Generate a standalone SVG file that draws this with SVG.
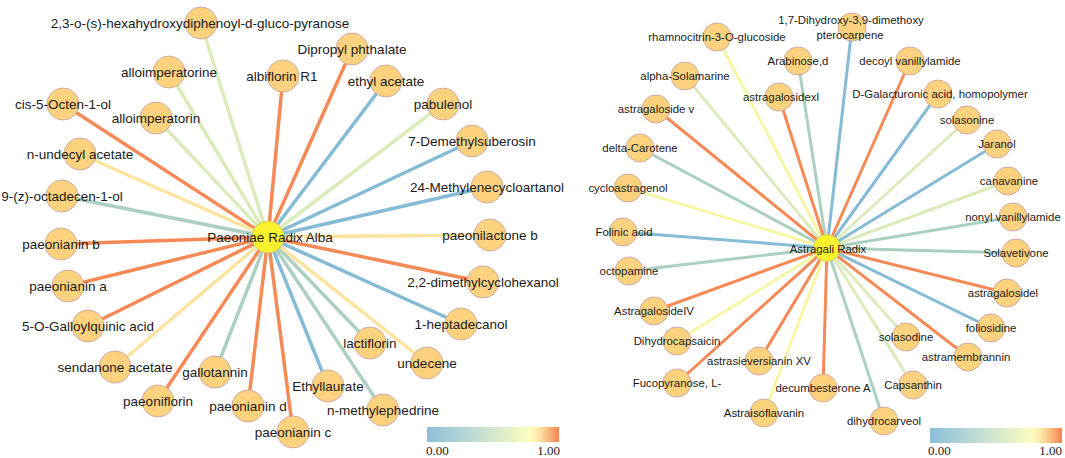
<svg xmlns="http://www.w3.org/2000/svg" width="1065" height="458" viewBox="0 0 1065 458">
<defs>
<linearGradient id="cbar" x1="0" y1="0" x2="1" y2="0">
<stop offset="0" stop-color="#8cbfdc"/>
<stop offset="0.45" stop-color="#cde4d0"/>
<stop offset="0.78" stop-color="#fdfdc0"/>
<stop offset="0.86" stop-color="#fddfa0"/>
<stop offset="1" stop-color="#f7834f"/>
</linearGradient>
<style>
.e{stroke-linecap:butt;fill:none}
.L .e{stroke-width:3.5}
.R .e{stroke-width:3}
.B{stroke:#86bbd6}
.G{stroke:#abd0bf}
.LG{stroke:#dcebbc}
.Y{stroke:#fbe4a0}
.Y2{stroke:#f5f6a6}
.O{stroke:#f58a57}
.n circle{fill:#fdd27f;stroke:#cfaaa3;stroke-width:1}
.c circle{fill:#fbf22e;stroke:#d8cc74;stroke-width:1}
text{font-family:"Liberation Sans",Arial,sans-serif;fill:#1a1a1a;text-anchor:middle}
.tl{font-size:13.5px}
.tr{font-size:11.4px}
.cb{font-family:"Liberation Serif","Times New Roman",serif;font-size:13px;fill:#222}
</style>
</defs>
<rect width="1065" height="458" fill="#ffffff"/>
<g id="connectors">
<g class="L">
<line class="e LG" x1="268" y1="237" x2="201" y2="23"/>
<line class="e LG" x1="268" y1="237" x2="169" y2="72"/>
<line class="e LG" x1="268" y1="237" x2="156" y2="118"/>
<line class="e O" x1="268" y1="237" x2="63" y2="104"/>
<line class="e Y" x1="268" y1="237" x2="80" y2="154"/>
<line class="e G" x1="268" y1="237" x2="62" y2="196"/>
<line class="e O" x1="268" y1="237" x2="61" y2="244"/>
<line class="e O" x1="268" y1="237" x2="68" y2="286"/>
<line class="e O" x1="268" y1="237" x2="88" y2="326"/>
<line class="e Y" x1="268" y1="237" x2="115" y2="367"/>
<line class="e O" x1="268" y1="237" x2="158" y2="401"/>
<line class="e G" x1="268" y1="237" x2="215" y2="372"/>
<line class="e O" x1="268" y1="237" x2="248" y2="406"/>
<line class="e O" x1="268" y1="237" x2="293" y2="432"/>
<line class="e B" x1="268" y1="237" x2="328" y2="386"/>
<line class="e G" x1="268" y1="237" x2="383" y2="410"/>
<line class="e G" x1="268" y1="237" x2="370" y2="343"/>
<line class="e Y" x1="268" y1="237" x2="427" y2="363"/>
<line class="e B" x1="268" y1="237" x2="461" y2="324"/>
<line class="e O" x1="268" y1="237" x2="483" y2="282"/>
<line class="e Y" x1="268" y1="237" x2="490" y2="235"/>
<line class="e B" x1="268" y1="237" x2="487" y2="187"/>
<line class="e B" x1="268" y1="237" x2="472" y2="141"/>
<line class="e LG" x1="268" y1="237" x2="443" y2="104"/>
<line class="e B" x1="268" y1="237" x2="386" y2="81"/>
<line class="e O" x1="268" y1="237" x2="352" y2="49"/>
<line class="e O" x1="268" y1="237" x2="283" y2="76"/>
</g>
<g class="R">
<line class="e Y2" x1="827" y1="248" x2="717" y2="37"/>
<line class="e LG" x1="827" y1="248" x2="685" y2="76"/>
<line class="e O" x1="827" y1="248" x2="656" y2="109"/>
<line class="e G" x1="827" y1="248" x2="640" y2="148"/>
<line class="e Y2" x1="827" y1="248" x2="628" y2="188"/>
<line class="e B" x1="827" y1="248" x2="623" y2="232"/>
<line class="e G" x1="827" y1="248" x2="629" y2="271"/>
<line class="e O" x1="827" y1="248" x2="654" y2="311"/>
<line class="e Y2" x1="827" y1="248" x2="677" y2="341"/>
<line class="e O" x1="827" y1="248" x2="677" y2="383"/>
<line class="e O" x1="827" y1="248" x2="759" y2="361"/>
<line class="e Y2" x1="827" y1="248" x2="764" y2="413"/>
<line class="e O" x1="827" y1="248" x2="823" y2="388"/>
<line class="e G" x1="827" y1="248" x2="884" y2="421"/>
<line class="e LG" x1="827" y1="248" x2="913" y2="385"/>
<line class="e LG" x1="827" y1="248" x2="906" y2="337"/>
<line class="e O" x1="827" y1="248" x2="968" y2="357"/>
<line class="e B" x1="827" y1="248" x2="991" y2="328"/>
<line class="e O" x1="827" y1="248" x2="1007" y2="293"/>
<line class="e G" x1="827" y1="248" x2="1016" y2="253"/>
<line class="e G" x1="827" y1="248" x2="1013" y2="217"/>
<line class="e LG" x1="827" y1="248" x2="1008" y2="181"/>
<line class="e B" x1="827" y1="248" x2="997" y2="144"/>
<line class="e LG" x1="827" y1="248" x2="967" y2="120"/>
<line class="e B" x1="827" y1="248" x2="938" y2="94"/>
<line class="e O" x1="827" y1="248" x2="910" y2="61"/>
<line class="e B" x1="827" y1="248" x2="852" y2="27"/>
<line class="e G" x1="827" y1="248" x2="798" y2="61"/>
<line class="e O" x1="827" y1="248" x2="779" y2="97"/>
</g>
</g>
<g id="left-nodes">
<g id="n-hexahydroxy" class="n"><circle cx="201" cy="23" r="16"/><text class="tl" x="200" y="23" dy=".35em">2,3-o-(s)-hexahydroxydiphenoyl-d-gluco-pyranose</text></g>
<g id="n-alloimperatorine" class="n"><circle cx="169" cy="72" r="16"/><text class="tl" x="169" y="72" dy=".35em">alloimperatorine</text></g>
<g id="n-alloimperatorin" class="n"><circle cx="156" cy="118" r="16"/><text class="tl" x="156" y="118" dy=".35em">alloimperatorin</text></g>
<g id="n-cis5octenol" class="n"><circle cx="63" cy="104" r="16"/><text class="tl" x="63" y="104" dy=".35em">cis-5-Octen-1-ol</text></g>
<g id="n-undecylacetate" class="n"><circle cx="80" cy="154" r="16"/><text class="tl" x="80" y="154" dy=".35em">n-undecyl acetate</text></g>
<g id="n-octadecenol" class="n"><circle cx="62" cy="196" r="16"/><text class="tl" x="62" y="196" dy=".35em">9-(z)-octadecen-1-ol</text></g>
<g id="n-paeonianinb" class="n"><circle cx="61" cy="244" r="16"/><text class="tl" x="61" y="244" dy=".35em">paeonianin b</text></g>
<g id="n-paeoniania" class="n"><circle cx="68" cy="286" r="16"/><text class="tl" x="68" y="286" dy=".35em">paeonianin a</text></g>
<g id="n-galloylquinic" class="n"><circle cx="88" cy="326" r="16"/><text class="tl" x="88" y="326" dy=".35em">5-O-Galloylquinic acid</text></g>
<g id="n-sendanone" class="n"><circle cx="115" cy="367" r="16"/><text class="tl" x="115" y="367" dy=".35em">sendanone acetate</text></g>
<g id="n-paeoniflorin" class="n"><circle cx="158" cy="401" r="16"/><text class="tl" x="158" y="401" dy=".35em">paeoniflorin</text></g>
<g id="n-gallotannin" class="n"><circle cx="215" cy="372" r="16"/><text class="tl" x="215" y="372" dy=".35em">gallotannin</text></g>
<g id="n-paeonianind" class="n"><circle cx="248" cy="406" r="16"/><text class="tl" x="248" y="406" dy=".35em">paeonianin d</text></g>
<g id="n-paeoniaininc" class="n"><circle cx="293" cy="432" r="16"/><text class="tl" x="293" y="432" dy=".35em">paeonianin c</text></g>
<g id="n-ethyllaurate" class="n"><circle cx="328" cy="386" r="16"/><text class="tl" x="328" y="386" dy=".35em">Ethyllaurate</text></g>
<g id="n-methylephedrine" class="n"><circle cx="383" cy="410" r="16"/><text class="tl" x="383" y="410" dy=".35em">n-methylephedrine</text></g>
<g id="n-lactiflorin" class="n"><circle cx="370" cy="343" r="16"/><text class="tl" x="370" y="343" dy=".35em">lactiflorin</text></g>
<g id="n-undecene" class="n"><circle cx="427" cy="363" r="16"/><text class="tl" x="427" y="363" dy=".35em">undecene</text></g>
<g id="n-heptadecanol" class="n"><circle cx="461" cy="324" r="16"/><text class="tl" x="461" y="324" dy=".35em">1-heptadecanol</text></g>
<g id="n-dimethylcyclohexanol" class="n"><circle cx="483" cy="282" r="16"/><text class="tl" x="483" y="282" dy=".35em">2,2-dimethylcyclohexanol</text></g>
<g id="n-paeonilactoneb" class="n"><circle cx="490" cy="235" r="16"/><text class="tl" x="490" y="235" dy=".35em">paeonilactone b</text></g>
<g id="n-methylenecycloartanol" class="n"><circle cx="487" cy="187" r="16"/><text class="tl" x="487" y="187" dy=".35em">24-Methylenecycloartanol</text></g>
<g id="n-demethylsuberosin" class="n"><circle cx="472" cy="141" r="16"/><text class="tl" x="472" y="141" dy=".35em">7-Demethylsuberosin</text></g>
<g id="n-pabulenol" class="n"><circle cx="443" cy="104" r="16"/><text class="tl" x="443" y="104" dy=".35em">pabulenol</text></g>
<g id="n-ethylacetate" class="n"><circle cx="386" cy="81" r="16"/><text class="tl" x="386" y="81" dy=".35em">ethyl acetate</text></g>
<g id="n-dipropylphthalate" class="n"><circle cx="352" cy="49" r="16"/><text class="tl" x="352" y="49" dy=".35em">Dipropyl phthalate</text></g>
<g id="n-albiflorinr1" class="n"><circle cx="283" cy="76" r="16"/><text class="tl" x="282" y="76" dy=".35em">albiflorin R1</text></g>
<g id="n-paeoniae" class="c"><circle cx="268" cy="237" r="16"/><text class="tl" x="270" y="237" dy=".35em">Paeoniae Radix Alba</text></g>
</g>
<g id="right-nodes">
<g id="n-rhamnocitrin" class="n"><circle cx="717" cy="37" r="14"/><text class="tr" x="717" y="37" dy=".35em">rhamnocitrin-3-O-glucoside</text></g>
<g id="n-alphasolamarine" class="n"><circle cx="685" cy="76" r="14"/><text class="tr" x="685" y="76" dy=".35em">alpha-Solamarine</text></g>
<g id="n-astragalosidev" class="n"><circle cx="656" cy="109" r="14"/><text class="tr" x="656" y="109" dy=".35em">astragaloside v</text></g>
<g id="n-deltacarotene" class="n"><circle cx="640" cy="148" r="14"/><text class="tr" x="640" y="148" dy=".35em">delta-Carotene</text></g>
<g id="n-cycloastragenol" class="n"><circle cx="628" cy="188" r="14"/><text class="tr" x="628" y="188" dy=".35em">cycloastragenol</text></g>
<g id="n-folinicacid" class="n"><circle cx="623" cy="232" r="14"/><text class="tr" x="624" y="232" dy=".35em">Folinic acid</text></g>
<g id="n-octopamine" class="n"><circle cx="629" cy="271" r="14"/><text class="tr" x="629" y="271" dy=".35em">octopamine</text></g>
<g id="n-astragalosideiv" class="n"><circle cx="654" cy="311" r="14"/><text class="tr" x="654" y="311" dy=".35em">AstragalosideIV</text></g>
<g id="n-dihydrocapsaicin" class="n"><circle cx="677" cy="341" r="14"/><text class="tr" x="677" y="341" dy=".35em">Dihydrocapsaicin</text></g>
<g id="n-fucopyranose" class="n"><circle cx="677" cy="383" r="14"/><text class="tr" x="677" y="383" dy=".35em">Fucopyranose, L-</text></g>
<g id="n-astrasieversianin" class="n"><circle cx="759" cy="361" r="14"/><text class="tr" x="759" y="361" dy=".35em">astrasieversianin XV</text></g>
<g id="n-astraisoflavanin" class="n"><circle cx="764" cy="413" r="14"/><text class="tr" x="764" y="413" dy=".35em">Astraisoflavanin</text></g>
<g id="n-decumbesterone" class="n"><circle cx="823" cy="388" r="14"/><text class="tr" x="823" y="388" dy=".35em">decumbesterone A</text></g>
<g id="n-dihydrocarveol" class="n"><circle cx="884" cy="421" r="14"/><text class="tr" x="884" y="421" dy=".35em">dihydrocarveol</text></g>
<g id="n-capsanthin" class="n"><circle cx="913" cy="385" r="14"/><text class="tr" x="913" y="385" dy=".35em">Capsanthin</text></g>
<g id="n-solasodine" class="n"><circle cx="906" cy="337" r="14"/><text class="tr" x="906" y="337" dy=".35em">solasodine</text></g>
<g id="n-astramembrannin" class="n"><circle cx="968" cy="357" r="14"/><text class="tr" x="966" y="357" dy=".35em">astramembrannin</text></g>
<g id="n-foliosidine" class="n"><circle cx="991" cy="328" r="14"/><text class="tr" x="991" y="328" dy=".35em">foliosidine</text></g>
<g id="n-astragalosidel" class="n"><circle cx="1007" cy="293" r="14"/><text class="tr" x="1003" y="293" dy=".35em">astragalosidel</text></g>
<g id="n-solavetivone" class="n"><circle cx="1016" cy="253" r="14"/><text class="tr" x="1016" y="253" dy=".35em">Solavetivone</text></g>
<g id="n-nonylvanillylamide" class="n"><circle cx="1013" cy="217" r="14"/><text class="tr" x="1013" y="217" dy=".35em">nonyl vanillylamide</text></g>
<g id="n-canavanine" class="n"><circle cx="1008" cy="181" r="14"/><text class="tr" x="1009" y="181" dy=".35em">canavanine</text></g>
<g id="n-jaranol" class="n"><circle cx="997" cy="144" r="14"/><text class="tr" x="997" y="144" dy=".35em">Jaranol</text></g>
<g id="n-solasonine" class="n"><circle cx="967" cy="120" r="14"/><text class="tr" x="967" y="120" dy=".35em">solasonine</text></g>
<g id="n-galacturonic" class="n"><circle cx="938" cy="94" r="14"/><text class="tr" x="940" y="94" dy=".35em">D-Galacturonic acid, homopolymer</text></g>
<g id="n-decoylvanillylamide" class="n"><circle cx="910" cy="61" r="14"/><text class="tr" x="910" y="61" dy=".35em">decoyl vanillylamide</text></g>
<g id="n-dihydroxydimethoxy" class="n"><circle cx="852" cy="27" r="14"/><text class="tr" x="851" y="20" dy=".35em">1,7-Dihydroxy-3,9-dimethoxy</text><text class="tr" x="850" y="35" dy=".35em">pterocarpene</text></g>
<g id="n-arabinose" class="n"><circle cx="798" cy="61" r="14"/><text class="tr" x="798" y="61" dy=".35em">Arabinose,d</text></g>
<g id="n-astragalosidexl" class="n"><circle cx="779" cy="97" r="14"/><text class="tr" x="781" y="97" dy=".35em">astragalosidexl</text></g>
<g id="n-astragali" class="c"><circle cx="827" cy="248" r="13.5"/><text class="tr" x="828" y="249" dy=".35em">Astragali Radix</text></g>
</g>
<g id="legend-left">
<rect x="427" y="427" width="132" height="15" fill="url(#cbar)"/>
<text class="cb" x="426" y="455" text-anchor="start" style="text-anchor:start">0.00</text>
<text class="cb" x="560" y="455" style="text-anchor:end">1.00</text>
</g>
<g id="legend-right">
<rect x="930" y="428" width="132" height="15" fill="url(#cbar)"/>
<text class="cb" x="928" y="455" style="text-anchor:start">0.00</text>
<text class="cb" x="1062" y="455" style="text-anchor:end">1.00</text>
</g>
</svg>
